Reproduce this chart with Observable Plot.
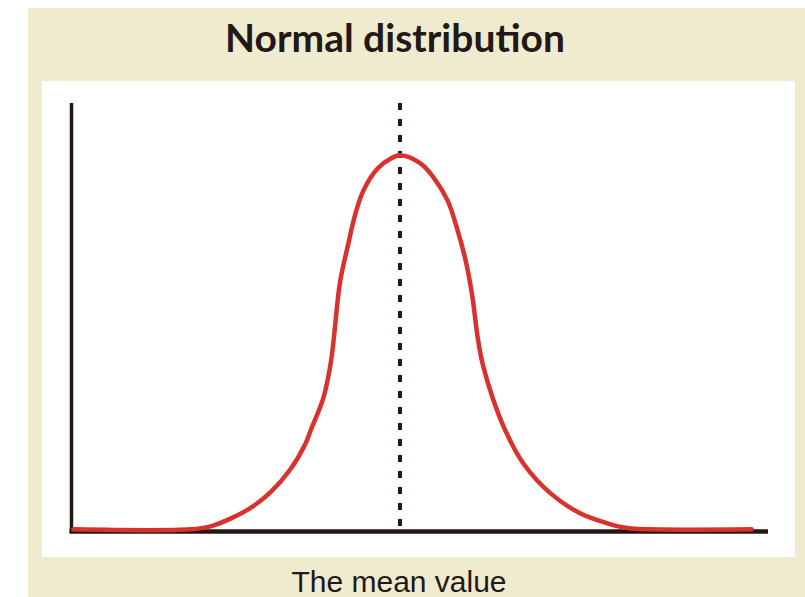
<!DOCTYPE html>
<html>
<head>
<meta charset="utf-8">
<script src="https://cdn.jsdelivr.net/npm/d3@7"></script>
<script src="https://cdn.jsdelivr.net/npm/@observablehq/plot@0.6"></script>
<style>
  html, body { margin: 0; padding: 0; background: #ffffff; width: 805px; height: 597px; overflow: hidden; }
  #panel { position: absolute; left: 28px; top: 8px; width: 777px; height: 589px; background: #efebcf; }
  #title { position: absolute; left: 0; width: 790px; top: 12px; text-align: center;
           font-family: Lato, "Open Sans", sans-serif; font-weight: 700; font-size: 39px; color: #231815; line-height: 50px; }
  #chart { position: absolute; left: 42px; top: 81px; width: 753px; height: 476px; background: #ffffff; }
  #caption { position: absolute; left: 0; width: 798px; top: 568px; text-align: center;
             font-family: "Liberation Sans", Arial, sans-serif; font-size: 30px; color: #231815; line-height: 28px; }
</style>
</head>
<body>
<div id="panel"></div>
<div id="title">Normal distribution</div>
<div id="chart"></div>
<div id="caption">The mean value</div>
<script>
// Curve: x in arbitrary units (mean at 0), y as relative density
const curveX = [-8.15, -5.23, -4.73, -4.23, -3.73, -3.23, -2.73, -2.36, -2.23, -1.91, -1.73, -1.63, -1.59, -1.49, -1.31, -1.11, -0.91, -0.56, -0.24, 0.01, 0.51, 0.84, 1.19, 1.44, 1.64, 1.81, 1.94, 2.06, 2.31, 2.63, 3.08, 3.76, 4.51, 5.18, 5.45, 5.76, 8.78];
const curveY = [0.005, 0.005, 0.012, 0.030, 0.055, 0.092, 0.146, 0.205, 0.236, 0.313, 0.393, 0.470, 0.509, 0.586, 0.664, 0.743, 0.797, 0.848, 0.871, 0.879, 0.860, 0.827, 0.773, 0.703, 0.633, 0.547, 0.453, 0.393, 0.313, 0.236, 0.159, 0.089, 0.042, 0.019, 0.012, 0.007, 0.005];
const meanValue = [0];
const xDomain = [-8.2, 9.2];
const yDomain = [0, 1];

const curve = curveX.map((x, i) => ({x, y: curveY[i]}));

const chart = Plot.plot({
  width: 753,
  height: 476,
  marginLeft: 29,
  marginRight: 27,
  marginTop: 22,
  marginBottom: 26,
  style: { background: "#ffffff" },
  x: { domain: xDomain, axis: null },
  y: { domain: yDomain, axis: null },
  marks: [
    Plot.ruleX(meanValue, { x: d => d, y1: 1, y2: 0, stroke: "#231815", strokeWidth: 4, strokeDasharray: "7,9" }),
    Plot.ruleX([xDomain[0]], { x: d => d, y1: 0, y2: 1, stroke: "#231815", strokeWidth: 3.5 }),
    Plot.ruleY([0], { y: d => d, x1: xDomain[0] - 0.04, x2: xDomain[1], stroke: "#231815", strokeWidth: 4.5 }),
    Plot.line(curve, { x: "x", y: "y", curve: "catmull-rom", stroke: "#d9312b", strokeWidth: 4.5 })
  ]
});
document.getElementById("chart").appendChild(chart);
</script>
</body>
</html>
